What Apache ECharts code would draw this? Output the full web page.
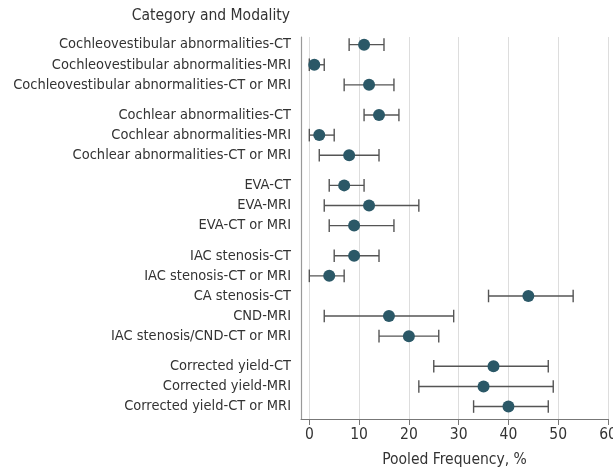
<!DOCTYPE html>
<html><head><meta charset="utf-8">
<script src="https://cdn.jsdelivr.net/npm/echarts@6/dist/echarts.min.js"></script>
<style>html,body{margin:0;padding:0;background:#fff}#c{width:613px;height:472px}</style>
</head><body><div id="c"></div>
<script>
// Data
const categories = [
  "Cochleovestibular abnormalities-CT",
  "Cochleovestibular abnormalities-MRI",
  "Cochleovestibular abnormalities-CT or MRI",
  "Cochlear abnormalities-CT",
  "Cochlear abnormalities-MRI",
  "Cochlear abnormalities-CT or MRI",
  "EVA-CT",
  "EVA-MRI",
  "EVA-CT or MRI",
  "IAC stenosis-CT",
  "IAC stenosis-CT or MRI",
  "CA stenosis-CT",
  "CND-MRI",
  "IAC stenosis/CND-CT or MRI",
  "Corrected yield-CT",
  "Corrected yield-MRI",
  "Corrected yield-CT or MRI"
];
const groupSizes = [3, 3, 3, 5, 3];
const estimate = [11, 1, 12, 14, 2, 8, 7, 12, 9, 9, 4, 44, 16, 20, 37, 35, 40];
const lower    = [8, 0, 7, 11, 0, 2, 4, 3, 4, 5, 0, 36, 3, 14, 25, 22, 33];
const upper    = [15, 3, 17, 18, 5, 14, 11, 22, 17, 14, 7, 53, 29, 26, 48, 49, 48];
const xTicks = [0, 10, 20, 30, 40, 50, 60];

// Row positions (groups separated by an extra half row)
const rowPos = [];
(function () {
  let p = 0;
  groupSizes.forEach((n, gi) => {
    if (gi > 0) p += 0.5;
    for (let i = 0; i < n; i++) { rowPos.push(p); p += 1; }
  });
})();
const labelAt = {};
rowPos.forEach((p, i) => { labelAt[p.toFixed(2)] = categories[i]; });

const FONT = 'DejaVu Sans Condensed';
const TXT = '#333333';

const chart = echarts.init(document.getElementById('c'), null, { renderer: 'canvas' });
chart.setOption({
  animation: false,
  grid: { left: 301, right: 5, top: 37, bottom: 53, containLabel: false, outerBoundsMode: 'none' },
  graphic: [{
    type: 'text', right: 323, top: 8,
    style: { text: 'Category and Modality', font: '15.5px "' + FONT + '"', fill: TXT }
  }],
  xAxis: {
    type: 'value', min: -1.67, max: 60,
    name: 'Pooled Frequency, %', nameLocation: 'middle', nameGap: 33,
    nameTextStyle: { fontFamily: FONT, fontSize: 15.5, color: TXT },
    axisLine: { show: true, onZero: false, lineStyle: { color: '#777', width: 1 } },
    axisTick: { show: true, length: 6, lineStyle: { color: '#777' }, customValues: xTicks },
    axisLabel: { customValues: xTicks, fontFamily: FONT, fontSize: 15.5, color: TXT, margin: 8 },
    splitLine: { show: true, lineStyle: { color: '#dddddd', width: 1 } }
  },
  yAxis: {
    type: 'value', inverse: true, min: -0.38, max: 18.62,
    axisLine: { show: true, onZero: false, lineStyle: { color: '#999', width: 1.2 } },
    axisTick: { show: false },
    splitLine: { show: false },
    axisLabel: {
      customValues: rowPos, fontFamily: FONT, fontSize: 14.5, color: TXT, margin: 10,
      formatter: v => labelAt[Number(v).toFixed(2)] || ''
    }
  },
  series: [
    {
      type: 'custom',
      data: rowPos.map((p, i) => [lower[i], upper[i], p]),
      renderItem: function (params, api) {
        const a = api.coord([api.value(0), api.value(2)]);
        const b = api.coord([api.value(1), api.value(2)]);
        const h = 6.3;
        const st = { stroke: '#555', lineWidth: 1.4 };
        return {
          type: 'group', children: [
            { type: 'line', shape: { x1: a[0], y1: a[1], x2: b[0], y2: b[1] }, style: st },
            { type: 'line', shape: { x1: a[0], y1: a[1] - h, x2: a[0], y2: a[1] + h }, style: st },
            { type: 'line', shape: { x1: b[0], y1: b[1] - h, x2: b[0], y2: b[1] + h }, style: st }
          ]
        };
      },
      encode: { x: [0, 1], y: 2 },
      z: 2
    },
    {
      type: 'scatter',
      data: rowPos.map((p, i) => [estimate[i], p]),
      symbol: 'circle', symbolSize: 12,
      itemStyle: { color: '#2b5867', opacity: 1 },
      z: 3
    }
  ]
});
</script></body></html>
